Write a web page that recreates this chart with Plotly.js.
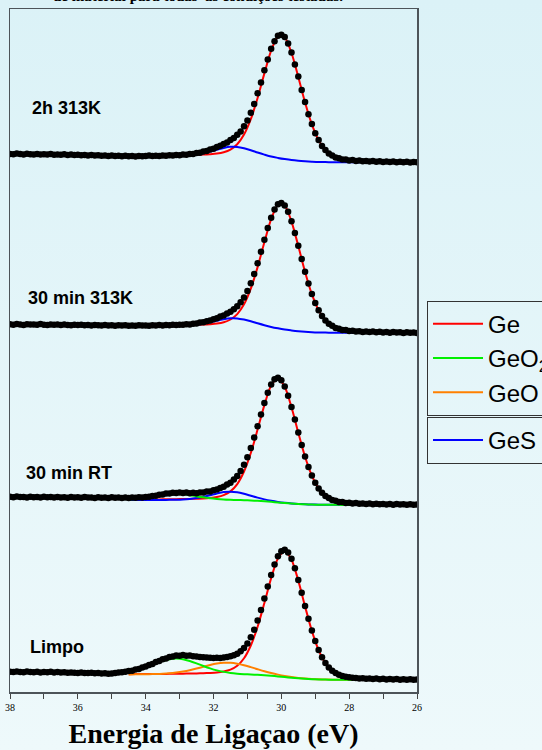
<!DOCTYPE html>
<html><head><meta charset="utf-8">
<script src="https://cdn.plot.ly/plotly-3.0.1.min.js"></script>
<style>
html,body{margin:0;padding:0;}
body{width:542px;height:750px;overflow:hidden;background:linear-gradient(to bottom,#dbf2f7 0%,#eef9fb 100%);}
#chart{width:542px;height:750px;}
</style></head><body><div id="chart"></div>
<script>
// Binding energy grid of the measured points (eV)
const energy = [38.0,37.9,37.8,37.7,37.6,37.5,37.4,37.3,37.2,37.1,37.0,36.9,36.8,36.7,36.6,36.5,36.4,36.3,36.2,36.1,36.0,35.9,35.8,35.7,35.6,35.5,35.4,35.3,35.2,35.1,35.0,34.9,34.8,34.7,34.6,34.5,34.4,34.3,34.2,34.1,34.0,33.9,33.8,33.7,33.6,33.5,33.4,33.3,33.2,33.1,33.0,32.9,32.8,32.7,32.6,32.5,32.4,32.3,32.2,32.1,32.0,31.9,31.8,31.7,31.6,31.5,31.4,31.3,31.2,31.1,31.0,30.9,30.8,30.7,30.6,30.5,30.4,30.3,30.2,30.1,30.0,29.9,29.8,29.7,29.6,29.5,29.4,29.3,29.2,29.1,29.0,28.9,28.8,28.7,28.6,28.5,28.4,28.3,28.2,28.1,28.0,27.9,27.8,27.7,27.6,27.5,27.4,27.3,27.2,27.1,27.0,26.9,26.8,26.7,26.6,26.5,26.4,26.3,26.2,26.1,26.0];

// Measured intensities (arb. units) for each condition
const data2h313K = [8.6,8.2,8.9,8.4,8.0,8.7,8.3,8.1,8.6,7.9,8.3,8.0,8.5,7.8,8.1,7.7,8.2,7.6,7.9,7.4,7.8,7.3,7.6,7.1,7.5,6.9,7.2,6.7,7.0,6.5,6.9,6.4,6.8,6.3,6.7,6.2,6.6,6.1,6.5,6.3,6.6,6.9,6.4,6.8,6.5,7.0,6.7,7.2,6.9,7.4,7.3,7.9,7.8,8.6,8.5,9.6,9.7,11.0,11.4,13.0,13.8,15.5,16.7,18.5,20.0,22.5,24.4,27.8,31.1,36.3,42.1,49.8,58.6,69.2,80.0,92.2,103.0,113.7,121.3,126.7,127.8,125.6,119.0,110.1,98.1,86.0,72.5,60.4,48.3,38.4,29.3,22.5,16.4,12.6,8.9,7.1,5.1,4.2,3.1,2.9,2.1,2.4,1.6,1.9,1.2,1.6,0.9,1.4,0.8,1.3,0.6,1.1,0.4,1.0,0.3,0.8,0.2,0.7,0.1,0.6,0.2];
const data30min313K = [8.7,8.3,8.9,8.5,8.1,8.8,8.4,8.6,8.2,8.9,8.3,8.0,8.6,8.2,8.5,7.9,8.4,8.1,7.8,8.3,7.9,8.2,7.7,8.1,7.6,8.0,7.8,7.5,7.9,7.4,7.8,7.3,7.7,7.4,7.8,7.2,7.6,7.3,7.7,7.4,7.6,7.3,7.8,7.4,7.9,7.5,8.0,7.7,8.2,7.9,8.3,8.2,8.7,8.6,9.3,9.5,10.4,10.7,11.8,12.5,13.8,14.7,16.4,17.5,19.4,21.3,23.7,26.7,30.7,35.5,42.0,49.8,59.1,69.7,81.3,93.2,104.9,115.2,123.6,128.7,130.1,127.5,121.2,111.7,100.0,87.2,74.0,61.2,49.4,38.9,30.1,22.8,16.9,12.6,9.2,7.2,5.0,4.3,3.1,2.9,2.1,2.3,1.6,1.8,1.1,1.5,0.9,1.4,0.7,1.2,0.6,1.1,0.3,0.9,0.4,0.8,0.1,0.7,0.2,0.6,0.1];
const data30minRT = [8.2,7.8,8.4,7.9,8.1,7.6,8.3,7.8,8.0,7.5,8.2,7.7,7.9,7.4,8.1,7.6,7.8,7.3,8.0,7.5,7.7,7.2,7.9,7.4,7.6,7.1,7.8,7.3,7.5,7.0,7.7,7.2,7.4,7.0,7.6,7.1,7.5,7.2,7.7,7.4,7.9,8.2,9.0,9.2,10.2,10.4,11.4,11.4,12.3,11.9,12.6,12.0,12.5,11.8,12.3,11.8,12.4,12.4,13.4,13.5,14.8,15.5,17.1,18.3,20.5,22.3,25.5,29.1,34.0,40.3,47.8,57.0,67.4,78.7,90.6,102.0,112.3,120.6,125.7,127.2,124.7,118.6,109.3,97.9,85.5,72.4,59.9,48.4,38.0,29.4,22.2,16.5,12.3,9.1,6.9,5.0,4.2,3.0,2.9,2.0,2.3,1.5,1.9,1.2,1.6,1.0,1.4,0.8,1.3,0.7,1.1,0.5,1.0,0.3,0.9,0.4,0.8,0.2,0.7,0.3,0.5];
const dataLimpo = [8.3,7.9,8.5,8.0,7.7,8.4,8.1,7.8,8.3,7.6,8.0,7.7,8.2,7.5,7.9,7.4,7.8,7.2,7.6,7.3,7.0,7.5,7.1,6.9,7.3,6.8,7.1,6.4,6.8,6.2,6.5,6.9,7.4,7.8,8.3,8.9,9.3,10.5,11.0,12.6,13.4,15.1,16.1,17.9,19.0,20.7,21.5,23.0,23.4,24.5,24.3,25.0,24.3,24.6,23.8,23.6,23.0,22.8,22.4,22.3,21.9,22.2,22.0,22.6,22.9,23.7,24.8,26.3,28.7,32.0,36.6,42.7,50.3,59.5,70.1,81.6,93.5,105.1,115.4,123.8,128.8,130.2,127.6,121.3,111.7,100.1,87.2,74.0,61.3,49.5,39.0,30.1,22.8,17.0,12.6,9.3,7.0,5.3,4.1,3.3,2.7,2.3,2.0,1.6,1.8,1.2,1.5,0.9,1.4,0.8,1.2,0.6,1.0,0.4,0.9,0.3,0.8,0.2,0.7,0.3,0.5];

// Vertical stacking offset of each spectrum and its label
const offsets = [529.5, 359, 187, 12];
const spectrumLabels = ['2h 313K', '30 min 313K', '30 min RT', 'Limpo'];

// Fitted components (each including its background), on the fit grid
const compEnergy = [34.5,34.3,34.1,33.9,33.7,33.5,33.3,33.1,32.9,32.7,32.5,32.3,32.1,31.9,31.7,31.5,31.3,31.1,30.9,30.7,30.5,30.3,30.1,29.9,29.7,29.5,29.3,29.1,28.9,28.7,28.5,28.3,28.1,27.9,27.7];
const ge2h313K = [6.9,6.9,6.9,7.0,7.0,7.1,7.2,7.3,7.4,7.5,7.7,7.9,8.3,8.9,10.2,12.9,18.2,27.9,43.3,64.5,89.1,111.8,125.6,124.9,109.5,85.6,60.0,38.1,22.2,12.3,6.8,4.0,2.6,2.0,1.6];
const ges2h313K = [6.5,6.5,6.5,6.5,6.6,6.6,6.6,6.7,6.9,7.3,8.1,9.3,10.9,12.8,14.6,15.7,15.6,14.3,12.3,10.0,7.9,6.0,4.6,3.4,2.4,1.7,1.2,0.8,0.5,0.4,0.3,0.2,0.2,0.2,0.1];
const ge30min313K = [7.4,7.4,7.4,7.5,7.5,7.6,7.7,7.8,7.9,8.0,8.2,8.4,8.8,9.4,10.7,13.5,18.9,28.7,44.4,65.9,90.8,113.8,127.9,127.1,111.4,87.0,61.1,38.8,22.7,12.5,6.9,4.1,2.6,2.0,1.6];
const ges30min313K = [7.0,7.0,7.0,7.0,7.0,7.1,7.1,7.2,7.3,7.7,8.3,9.3,10.7,12.3,13.7,14.7,14.6,13.4,11.7,9.7,7.8,6.1,4.7,3.5,2.6,1.8,1.2,0.8,0.55,0.4,0.3,0.25,0.2,0.2,0.15];
const ge30minRT = [5.4,5.4,5.5,5.5,5.6,5.65,5.75,5.85,5.95,6.1,6.3,6.5,7.0,8.0,9.9,13.6,20.9,33.5,52.0,75.4,99.9,119.4,126.5,118.2,97.7,72.3,48.2,29.3,16.5,9.0,5.1,3.2,2.2,1.7,1.4];
const ges30minRT = [5.0,5.0,5.0,5.05,5.05,5.1,5.15,5.3,5.55,6.05,6.9,8.2,9.8,11.5,12.9,13.3,12.7,11.2,9.3,7.35,5.6,4.2,3.1,2.26,1.6,1.1,0.75,0.5,0.34,0.25,0.2,0.17,0.15,0.13,0.11];
const geo2_30minRT = [5.6,6.1,6.75,7.7,8.65,9.8,10.65,10.95,10.65,9.8,8.6,7.7,6.7,6.0,5.5,5.2,5.0,4.75,4.5,4.15,3.7,3.15,2.55,1.97,1.43,0.99,0.67,0.43,0.29,0.2,0.16,0.13,0.11,0.1,0.09];
const geLimpo = [5.85,5.9,5.93,5.97,6.0,6.1,6.15,6.25,6.35,6.46,6.6,6.8,7.07,7.5,8.5,10.35,14.2,21.7,34.5,53.2,77.0,101.9,121.6,128.75,120.3,99.4,73.55,49.1,29.84,16.8,9.1,5.15,3.2,2.2,1.7];
const geoLimpo = [5.59,5.65,5.7,5.8,5.97,6.25,6.71,7.45,8.45,9.79,11.44,13.23,15.02,16.45,17.28,17.25,16.34,14.81,12.86,10.81,8.81,6.98,5.39,4.01,2.91,2.04,1.4,0.94,0.64,0.45,0.34,0.27,0.23,0.2,0.18];
const geo2Limpo = [8.2,9.65,11.65,14.05,16.65,19.05,20.85,21.45,20.85,19.04,16.64,14.03,11.62,9.6,8.13,7.05,6.34,5.87,5.51,5.13,4.72,4.19,3.57,2.9,2.25,1.65,1.17,0.8,0.55,0.39,0.29,0.24,0.2,0.18,0.16];

const componentNames = ['Ge', 'GeO2', 'GeO', 'GeS'];
const componentLegend = ['Ge', 'GeO<sub>2</sub>', 'GeO', 'GeS'];
const componentColors = ['#ff0000', '#00f000', '#ff8000', '#0000ff'];

const spectra = [
  {data: data2h313K, comps: [['Ge', ge2h313K], ['GeS', ges2h313K]]},
  {data: data30min313K, comps: [['Ge', ge30min313K], ['GeS', ges30min313K]]},
  {data: data30minRT, comps: [['Ge', ge30minRT], ['GeS', ges30minRT], ['GeO2', geo2_30minRT]]},
  {data: dataLimpo, comps: [['Ge', geLimpo], ['GeO', geoLimpo], ['GeO2', geo2Limpo]]}
];

const traces = [];
const seen = {};
spectra.forEach((s, si) => {
  const off = offsets[si];
  s.comps.forEach(([key, vals]) => {
    const ci = componentNames.indexOf(key);
    traces.push({
      x: compEnergy, y: vals.map(v => v + off), type: 'scatter', mode: 'lines',
      line: {color: componentColors[ci], width: 2, shape: 'spline', smoothing: 0.8},
      name: componentLegend[ci], showlegend: !seen[key],
      legend: key === 'GeS' ? 'legend2' : 'legend', legendrank: ci + 1,
      hoverinfo: 'skip'
    });
    seen[key] = true;
  });
  traces.push({
    x: energy, y: s.data.map(v => v + off), type: 'scatter', mode: 'markers',
    marker: {color: '#000000', size: 6.5}, showlegend: false, name: spectrumLabels[si]
  });
});

const labelX = [37.41, 37.53, 37.59, 37.47];
const labelY = [584.3, 394, 219, 45.3];
const annotations = spectrumLabels.map((t, i) => ({
  x: labelX[i], y: labelY[i], xref: 'x', yref: 'y', xanchor: 'left', yanchor: 'middle',
  text: t, showarrow: false,
  font: {family: 'Liberation Sans, Arial, sans-serif', size: 18, color: '#000', weight: 'bold'}
}));
annotations.push({
  xref: 'paper', yref: 'paper', x: 0.823, y: 1.0195, xanchor: 'right', yanchor: 'middle',
  text: 'de material para todas  as condições testadas.', showarrow: false,
  font: {family: 'Liberation Serif, serif', size: 15, color: '#000', weight: 'bold'}
});

const legendCommon = {
  xanchor: 'left', yanchor: 'top', bordercolor: '#333', borderwidth: 1,
  bgcolor: 'rgba(0,0,0,0)', itemwidth: 50,
  font: {family: 'Liberation Sans, Arial, sans-serif', size: 24, color: '#000'}
};

const layout = {
  width: 542, height: 750,
  paper_bgcolor: 'rgba(0,0,0,0)', plot_bgcolor: 'rgba(0,0,0,0)',
  margin: {l: 10, r: 125, t: 9, b: 58, autoexpand: false},
  showlegend: true,
  xaxis: {
    range: [38, 26], tickmode: 'linear', tick0: 26, dtick: 2,
    ticks: 'outside', ticklen: 5, tickwidth: 1, tickcolor: '#444',
    showline: true, linecolor: '#4d5459', linewidth: 1.5, mirror: true,
    showgrid: false, zeroline: false, automargin: false,
    tickfont: {family: 'Liberation Serif, serif', size: 10, color: '#000'},
    minor: {tickmode: 'linear', tick0: 26, dtick: 1, ticks: 'outside', ticklen: 5, tickwidth: 1, tickcolor: '#444', showgrid: false},
    title: {text: 'Energia de Ligaçao (eV)', standoff: 12,
      font: {family: 'Liberation Serif, serif', size: 28, color: '#000', weight: 'bold'}}
  },
  yaxis: {
    range: [0, 683], showline: true, linecolor: '#4d5459', linewidth: 1.5, mirror: true,
    showticklabels: false, ticks: '', showgrid: false, zeroline: false, automargin: false
  },
  legend: Object.assign({x: 1.0246, y: 0.573}, legendCommon),
  legend2: Object.assign({x: 1.0246, y: 0.4026}, legendCommon),
  annotations: annotations
};

Plotly.newPlot('chart', traces, layout, {staticPlot: true, displayModeBar: false});
</script></body></html>
